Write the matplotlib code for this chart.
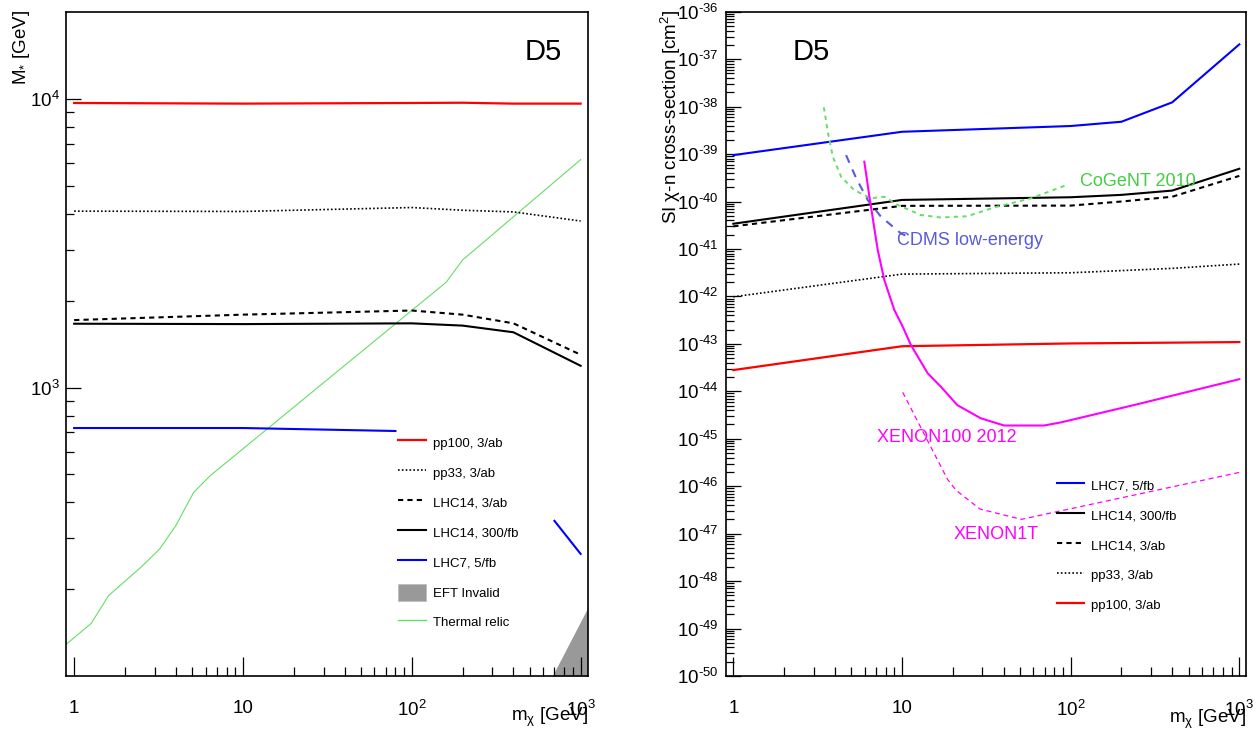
import numpy as np
import matplotlib
matplotlib.use("Agg")
import matplotlib.pyplot as plt
from matplotlib.lines import Line2D
from matplotlib.patches import Patch
from matplotlib.ticker import FixedLocator, FixedFormatter, NullFormatter

plt.rcParams['font.family'] = ['Liberation Sans', 'DejaVu Sans']
plt.rcParams['mathtext.fontset'] = 'custom'
plt.rcParams['mathtext.rm'] = 'Liberation Sans'
plt.rcParams['mathtext.it'] = 'Liberation Sans:italic'
plt.rcParams['mathtext.default'] = 'regular'
plt.rcParams['axes.unicode_minus'] = False

# ---- left panel: M* reach vs dark matter mass
mx = [1, 10, 100, 200, 400, 1000]
pp100_mstar = [9700, 9650, 9700, 9720, 9650, 9650]
pp33_mstar = [4090, 4080, 4210, 4120, 4065, 3780]
lhc14_3ab_mstar = [1714, 1790, 1850, 1790, 1670, 1300]
lhc14_300_mstar = [1665, 1660, 1670, 1640, 1555, 1190]
lhc7_mx = [1, 10, 80, np.nan, 700, 1000]
lhc7_mstar = [724, 724, 707, np.nan, 345, 265]
relic_mx = [0.9, 1.26, 1.6, 2.5, 3.2, 4.0, 5.1, 6.4, 160, 200, 1000]
relic_mstar = [129, 152, 190, 239, 275, 332, 433, 495, 2320, 2770, 6170]
eft_mx = [680, 1100]
eft_mstar = [100, 172]

# ---- right panel: SI cross-section
sig_mx = [1, 10, 100, 200, 400, 1000]
lhc7_sigma = [9.5e-40, 2.95e-39, 3.9e-39, 4.8e-39, 1.23e-38, 2.05e-37]
lhc14_300_sigma = [3.4e-41, 1.08e-40, 1.23e-40, 1.38e-40, 1.7e-40, 4.9e-40]
lhc14_3ab_sigma = [3.0e-41, 8.1e-41, 8.2e-41, 1.0e-40, 1.26e-40, 3.47e-40]
pp33_sigma = [9.8e-43, 2.95e-42, 3.15e-42, 3.5e-42, 3.9e-42, 4.8e-42]
pp100_sigma = [2.8e-44, 8.9e-44, 1.02e-43, 1.04e-43, 1.06e-43, 1.09e-43]

xe100_mx = [5.98, 6.41, 7.18, 7.86, 9.0, 10.1, 11.3, 14.2, 17.0, 21.3, 29.3,
            40.3, 69.5, 87, 236, 1000]
xe100_sigma = [6.9e-40, 1.26e-40, 9.5e-42, 2.2e-42, 5.2e-43, 2.3e-43, 9.4e-44,
               2.4e-44, 1.25e-44, 5.1e-45, 2.7e-45, 1.9e-45, 1.9e-45, 2.2e-45,
               5.1e-45, 1.8e-44]
xe1t_mx = [10.1, 18.6, 21, 29, 51, 1000]
xe1t_sigma = [9.5e-45, 1.4e-46, 8.1e-47, 3.3e-47, 2.0e-47, 1.95e-46]
cogent_mx = [3.44, 3.64, 3.89, 4.36, 5.22, 6.56, 7.86, 9.43, 12.9, 17.0, 24.4,
             35.2, 58.3, 97]
cogent_sigma = [9.7e-39, 2.8e-39, 8.8e-40, 3.3e-40, 1.73e-40, 1.17e-40,
                1.26e-40, 8.5e-41, 5.2e-41, 4.6e-41, 4.9e-41, 7.5e-41,
                1.17e-40, 2.3e-40]
cdms_mx = [4.66, 5.35, 6.27, 7.5, 9.9, 11.6]
cdms_sigma = [9.5e-40, 3.1e-40, 1.07e-40, 4.8e-41, 2.1e-41, 1.67e-41]

x_ticks = [1, 10, 100, 1000]
x_tick_labels = ['1', '10', '$10^{2}$', '$10^{3}$']
left_yticks = [1e3, 1e4]
left_ytick_labels = ['$10^{3}$', '$10^{4}$']
right_exps = list(range(-50, -35))

GREEN = '#66dd66'
CDMS_C = '#5a5adc'
MAG = '#ff00ff'

fig = plt.figure(figsize=(12.58, 7.33), dpi=100)
ax1 = fig.add_axes([0.0528, 0.0778, 0.4143, 0.9062])
ax2 = fig.add_axes([0.5768, 0.0778, 0.4139, 0.9062])


def style_axes(ax):
    ax.set_xscale('log')
    ax.set_yscale('log')
    ax.set_xlim(0.9, 1100)
    for sp in ax.spines.values():
        sp.set_linewidth(1.2)
    ax.tick_params(which='both', direction='in', top=False, right=False,
                   width=0.9, labelsize=13.5)
    ax.tick_params(axis='x', which='major', length=13.5, pad=17)
    ax.tick_params(axis='x', which='minor', length=6.7)
    ax.tick_params(axis='y', which='major', length=11, pad=5)
    ax.tick_params(axis='y', which='minor', length=6)
    ax.xaxis.set_major_locator(FixedLocator(x_ticks))
    ax.xaxis.set_major_formatter(FixedFormatter(x_tick_labels))
    minors = [m * 10.0 ** d for d in range(0, 3) for m in range(2, 10)]
    ax.xaxis.set_minor_locator(FixedLocator(minors))
    ax.xaxis.set_minor_formatter(NullFormatter())


# ---------------- left panel
style_axes(ax1)
ax1.set_ylim(100, 2.01e4)
ax1.yaxis.set_major_locator(FixedLocator(left_yticks))
ax1.yaxis.set_major_formatter(FixedFormatter(left_ytick_labels))
ax1.yaxis.set_minor_locator(FixedLocator([m * 10.0 ** d for d in (2, 3) for m in range(2, 10)]))
ax1.yaxis.set_minor_formatter(NullFormatter())

ax1.fill_between(eft_mx, eft_mstar, [100, 100], color='#999999', lw=0)
ax1.plot(relic_mx, relic_mstar, color=GREEN, lw=0.8)
ax1.plot(mx, pp100_mstar, color='red', lw=1.6)
ax1.plot(mx, pp33_mstar, color='black', lw=1.2, dashes=(1, 1.3))
ax1.plot(mx, lhc14_3ab_mstar, color='black', lw=1.5, dashes=(2.5, 2))
ax1.plot(mx, lhc14_300_mstar, color='black', lw=1.5)
ax1.plot(lhc7_mx, lhc7_mstar, color='blue', lw=1.5)
ax1.text(464, 1.46e4, 'D5', fontsize=21, ha='left', va='center')

h_left = [
    Line2D([], [], color='red', lw=1.6),
    Line2D([], [], color='black', lw=1.2, dashes=(1, 1.3)),
    Line2D([], [], color='black', lw=1.5, dashes=(2.5, 2)),
    Line2D([], [], color='black', lw=1.5),
    Line2D([], [], color='blue', lw=1.5),
    Patch(facecolor='#999999', edgecolor='#bbbbbb', lw=0.5),
    Line2D([], [], color=GREEN, lw=1.0),
]
l_left = ['pp100, 3/ab', 'pp33, 3/ab', 'LHC14, 3/ab', 'LHC14, 300/fb',
          'LHC7, 5/fb', 'EFT Invalid', 'Thermal relic']
ax1.legend(h_left, l_left, loc='upper left', bbox_to_anchor=(0.637, 0.3643),
           frameon=False, fontsize=9.5, borderpad=0, borderaxespad=0,
           handlelength=2.1, handleheight=1.65, handletextpad=0.5,
           labelspacing=0.95)

fig.text(21 / 1258, 1 - 10 / 733, 'M$_{*}$ [GeV]', rotation=90, fontsize=13.5,
         ha='center', va='top')
fig.text(587.6 / 1258, 1 - 717 / 733, r'm$_{\chi}$ [GeV]', fontsize=13.5,
         ha='right', va='center')

# ---------------- right panel
style_axes(ax2)
ax2.set_ylim(1e-50, 1e-36)
ax2.yaxis.set_major_locator(FixedLocator([10.0 ** e for e in right_exps]))
ax2.yaxis.set_major_formatter(FixedFormatter([r'$10^{\text{-}%d}$' % -e for e in right_exps]))
ax2.yaxis.set_minor_locator(FixedLocator([m * 10.0 ** e for e in right_exps[:-1] for m in range(2, 10)]))
ax2.yaxis.set_minor_formatter(NullFormatter())

ax2.plot(sig_mx, lhc7_sigma, color='blue', lw=1.5)
ax2.plot(sig_mx, lhc14_300_sigma, color='black', lw=1.5)
ax2.plot(sig_mx, lhc14_3ab_sigma, color='black', lw=1.5, dashes=(2.5, 2))
ax2.plot(sig_mx, pp33_sigma, color='black', lw=1.2, dashes=(1, 1.3))
ax2.plot(sig_mx, pp100_sigma, color='red', lw=1.6)
ax2.plot(cogent_mx, cogent_sigma, color=GREEN, lw=1.4, dashes=(2.2, 2.2))
ax2.plot(cdms_mx, cdms_sigma, color=CDMS_C, lw=1.5, dashes=(4, 3.5))
ax2.plot(xe100_mx, xe100_sigma, color=MAG, lw=1.5)
ax2.plot(xe1t_mx, xe1t_sigma, color=MAG, lw=0.9, dashes=(4, 3))

ax2.text(2.26, 1.44e-37, 'D5', fontsize=21, ha='left', va='center')
ax2.text(114, 2.6e-40, 'CoGeNT 2010', color='#44cc44', fontsize=13,
         ha='left', va='center')
ax2.text(9.3, 1.5e-41, 'CDMS low-energy', color=CDMS_C, fontsize=13,
         ha='left', va='center')
ax2.text(7.11, 1.07e-45, 'XENON100 2012', color=MAG, fontsize=13,
         ha='left', va='center')
ax2.text(20.2, 9.8e-48, 'XENON1T', color=MAG, fontsize=13,
         ha='left', va='center')

h_right = [
    Line2D([], [], color='blue', lw=1.5),
    Line2D([], [], color='black', lw=1.5),
    Line2D([], [], color='black', lw=1.5, dashes=(2.5, 2)),
    Line2D([], [], color='black', lw=1.2, dashes=(1, 1.3)),
    Line2D([], [], color='red', lw=1.6),
]
l_right = ['LHC7, 5/fb', 'LHC14, 300/fb', 'LHC14, 3/ab', 'pp33, 3/ab',
           'pp100, 3/ab']
ax2.legend(h_right, l_right, loc='upper left', bbox_to_anchor=(0.636, 0.3003),
           frameon=False, fontsize=9.5, borderpad=0, borderaxespad=0,
           handlelength=2.1, handleheight=1.65, handletextpad=0.5,
           labelspacing=0.95)

fig.text(670.5 / 1258, 1 - 10 / 733, 'SI χ-n cross-section [cm$^{2}$]',
         rotation=90, fontsize=13.5, ha='center', va='top')
fig.text(1246.3 / 1258, 1 - 719 / 733, r'm$_{\chi}$ [GeV]', fontsize=13.5,
         ha='right', va='center')

fig.savefig('out.png', dpi=100)
